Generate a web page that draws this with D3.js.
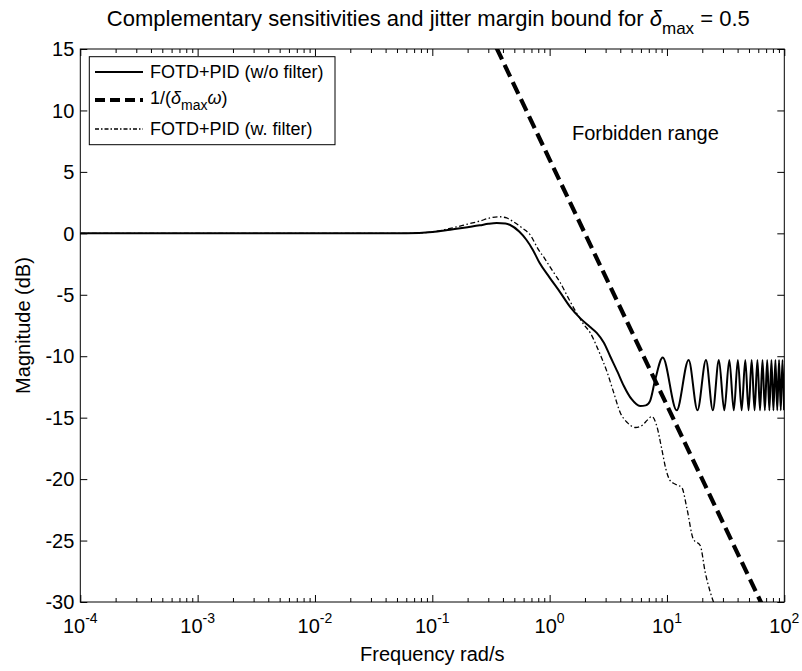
<!DOCTYPE html>
<html>
<head>
<meta charset="utf-8">
<script src="https://cdn.jsdelivr.net/npm/d3@7"></script>
<style>
  html, body { margin: 0; padding: 0; background: #fff; }
  svg { display: block; font-family: "Liberation Sans", Arial, Helvetica, sans-serif; }
</style>
</head>
<body>
<svg id="chart" width="802" height="671"></svg>
<script>
// ---------------- data ----------------
const xTicks = [1e-4, 1e-3, 1e-2, 1e-1, 1e0, 1e1, 1e2];
const xTickExponents = ["-4", "-3", "-2", "-1", "0", "1", "2"];
const yTicks = [-30, -25, -20, -15, -10, -5, 0, 5, 10, 15];

// FOTD+PID (w/o filter): smooth part
const noFilterW = [1e-4, 0.01, 0.06, 0.1, 0.142, 0.2, 0.254, 0.3, 0.354, 0.42, 0.461, 0.55, 0.631, 0.72, 0.82, 1.0, 1.23, 1.5, 1.82, 2.2, 2.52, 2.9, 3.28, 3.8, 4.28, 5.0, 5.9, 6.6, 7.17, 7.94];
const noFilterDb = [0, 0, 0, 0.1, 0.3, 0.5, 0.65, 0.78, 0.85, 0.8, 0.68, 0.15, -0.5, -1.35, -2.4, -3.6, -4.8, -6.0, -6.9, -7.6, -8.1, -8.9, -10.0, -11.3, -12.4, -13.5, -14.05, -14.0, -13.65, -11.9];
// oscillating tail: alternating peaks / troughs
const tailW = [9.2, 12.1, 15.3, 18.2, 21.5, 24.6, 27.7, 30.8, 34.0, 37.1, 40.2, 43.3, 46.5, 49.6, 52.7, 55.8, 59.0, 62.1, 65.2, 68.3, 71.5, 74.6, 77.7, 80.8, 84.0, 87.1, 90.2, 93.3, 96.5, 99.6];
const tailDb = [-10.1, -14.4, -10.3, -14.4, -10.3, -14.4, -10.3, -14.4, -10.3, -14.4, -10.3, -14.4, -10.3, -14.4, -10.3, -14.4, -10.3, -14.4, -10.3, -14.4, -10.3, -14.4, -10.3, -14.4, -10.3, -14.4, -10.3, -14.4, -10.3, -14.4];

// 1/(delta_max * omega), delta_max = 0.5
const boundW = [0.3, 1, 10, 70];
const boundDb = [16.5, 6.0, -14.0, -30.9];

// FOTD+PID (w. filter)
const filterW = [1e-4, 0.01, 0.06, 0.1, 0.142, 0.2, 0.254, 0.31, 0.37, 0.43, 0.49, 0.58, 0.686, 0.8, 0.9, 1.05, 1.23, 1.45, 1.7, 1.95, 2.22, 2.6, 3.09, 3.5, 4.0, 4.6, 5.4, 6.2, 6.8, 7.43, 8.2, 9.05, 9.8, 10.6, 11.7, 13.4, 14.8, 16.8, 19.2, 21.2, 23.4, 25.8];
const filterDb = [0, 0, 0, 0.12, 0.4, 0.75, 1.0, 1.25, 1.35, 1.25, 0.95, 0.45, -0.15, -1.3, -2.0, -3.0, -4.0, -5.3, -6.5, -7.4, -8.1, -9.5, -11.3, -12.9, -14.6, -15.4, -15.8, -15.6, -15.2, -14.9, -15.7, -17.6, -19.2, -20.1, -20.4, -20.7, -22.4, -24.9, -25.4, -27.6, -29.2, -30.4];

const legendLabels = ["FOTD+PID (w/o filter)", "1/(δmaxω)", "FOTD+PID (w. filter)"];

// ---------------- layout ----------------
const L = 80.3, R = 784.3, T = 49, B = 602;
const svg = d3.select("#chart");

const x = d3.scaleLog().domain([1e-4, 1e2]).range([L, R]);
const y = d3.scaleLinear().domain([-30, 15]).range([B, T]);

const defs = svg.append("defs");
defs.append("clipPath").attr("id", "plotclip")
  .append("rect").attr("x", L).attr("y", T).attr("width", R - L).attr("height", B - T);

// ---------------- ticks (inside, all four sides) ----------------
const minor = [];
for (let e = -4; e < 2; e++) for (let k = 2; k <= 9; k++) minor.push(k * Math.pow(10, e));

const axBottom = d3.axisBottom(x).tickValues(xTicks).tickSizeInner(-7).tickSizeOuter(0).tickFormat("");
const axBottomMinor = d3.axisBottom(x).tickValues(minor).tickSizeInner(-4).tickSizeOuter(0).tickFormat("");
const axTop = d3.axisTop(x).tickValues(xTicks).tickSizeInner(-7).tickSizeOuter(0).tickFormat("");
const axTopMinor = d3.axisTop(x).tickValues(minor).tickSizeInner(-4).tickSizeOuter(0).tickFormat("");
const axLeft = d3.axisLeft(y).tickValues(yTicks).tickSizeInner(-7).tickSizeOuter(0).tickFormat("");
const axRight = d3.axisRight(y).tickValues(yTicks).tickSizeInner(-7).tickSizeOuter(0).tickFormat("");

function styleAxis(g) {
  g.select(".domain").remove();
  g.selectAll(".tick line").attr("stroke", "#000").attr("stroke-width", 1);
}
svg.append("g").attr("transform", `translate(0,${B})`).call(axBottom).call(styleAxis);
svg.append("g").attr("transform", `translate(0,${B})`).call(axBottomMinor).call(styleAxis);
svg.append("g").attr("transform", `translate(0,${T})`).call(axTop).call(styleAxis);
svg.append("g").attr("transform", `translate(0,${T})`).call(axTopMinor).call(styleAxis);
svg.append("g").attr("transform", `translate(${L},0)`).call(axLeft).call(styleAxis);
svg.append("g").attr("transform", `translate(${R},0)`).call(axRight).call(styleAxis);

// ---------------- curves ----------------
const line = d3.line().x(d => x(d[0])).y(d => y(d[1])).curve(d3.curveMonotoneX);
const plot = svg.append("g").attr("clip-path", "url(#plotclip)");

const solidData = noFilterW.map((w, i) => [w, noFilterDb[i]]).concat(tailW.map((w, i) => [w, tailDb[i]]));
const filterData = filterW.map((w, i) => [w, filterDb[i]]);
const boundData = boundW.map((w, i) => [w, boundDb[i]]);

plot.append("path").datum(filterData).attr("d", line)
  .attr("fill", "none").attr("stroke", "#000").attr("stroke-width", 1.3)
  .attr("stroke-dasharray", "5,2.5,1.5,2.5");
plot.append("path").datum(solidData).attr("d", line)
  .attr("fill", "none").attr("stroke", "#000").attr("stroke-width", 2);
plot.append("path").datum(boundData).attr("d", d3.line().x(d => x(d[0])).y(d => y(d[1])))
  .attr("fill", "none").attr("stroke", "#000").attr("stroke-width", 4.2)
  .attr("stroke-dasharray", "13,6");

// axes box
svg.append("rect").attr("x", L).attr("y", T).attr("width", R - L).attr("height", B - T)
  .attr("fill", "none").attr("stroke", "#000").attr("stroke-width", 1);

// ---------------- tick labels ----------------
const yl = svg.append("g").attr("font-size", 20).attr("text-anchor", "end");
yTicks.forEach(v => {
  yl.append("text").attr("x", L - 6).attr("y", y(v)).attr("dy", "0.36em").text(v);
});

const xl = svg.append("g").attr("font-size", 20);
xTicks.forEach((v, i) => {
  const t = xl.append("text").attr("x", x(v)).attr("y", B + 31).attr("text-anchor", "middle");
  t.append("tspan").text("10");
  t.append("tspan").attr("dy", -10).attr("font-size", 14).text(xTickExponents[i]);
});

// axis labels
svg.append("text").attr("x", (L + R) / 2).attr("y", 661).attr("text-anchor", "middle")
  .attr("font-size", 20).text("Frequency rad/s");
svg.append("text").attr("transform", `translate(30,${(T + B) / 2}) rotate(-90)`)
  .attr("text-anchor", "middle").attr("font-size", 20).text("Magnitude (dB)");

// title
const title = svg.append("text").attr("x", (L + R) / 2 - 4).attr("y", 26).attr("text-anchor", "middle").attr("font-size", 22);
title.append("tspan").text("Complementary sensitivities and jitter margin bound for ");
title.append("tspan").attr("font-style", "italic").text("δ");
title.append("tspan").attr("dy", 8).attr("font-size", 17).text("max");
title.append("tspan").attr("dy", -8).text(" = 0.5");

// forbidden range annotation
svg.append("text").attr("x", 572).attr("y", 140).attr("font-size", 20).text("Forbidden range");

// ---------------- legend ----------------
const lg = svg.append("g");
lg.append("rect").attr("x", 89.3).attr("y", 56.7).attr("width", 245.7).attr("height", 88)
  .attr("fill", "#fff").attr("stroke", "#000").attr("stroke-width", 1);
const rowsY = [72, 100, 129];
const styles = [
  { w: 2, dash: null },
  { w: 4.2, dash: "10,5" },
  { w: 1.3, dash: "4,2,1.5,2" }
];
rowsY.forEach((ry, i) => {
  lg.append("line").attr("x1", 95).attr("x2", 143).attr("y1", ry).attr("y2", ry)
    .attr("stroke", "#000").attr("stroke-width", styles[i].w)
    .attr("stroke-dasharray", styles[i].dash);
});
lg.append("text").attr("x", 150).attr("y", rowsY[0]).attr("dy", "0.36em").attr("font-size", 18).text(legendLabels[0]);
const t2 = lg.append("text").attr("x", 150).attr("y", rowsY[1]).attr("dy", "0.2em").attr("font-size", 18);
t2.append("tspan").text("1/(");
t2.append("tspan").attr("font-style", "italic").text("δ");
t2.append("tspan").attr("dy", 6).attr("font-size", 14).text("max");
t2.append("tspan").attr("dy", -6).attr("font-style", "italic").text("ω");
t2.append("tspan").text(")");
lg.append("text").attr("x", 150).attr("y", rowsY[2]).attr("dy", "0.36em").attr("font-size", 18).text(legendLabels[2]);
</script>
</body>
</html>
